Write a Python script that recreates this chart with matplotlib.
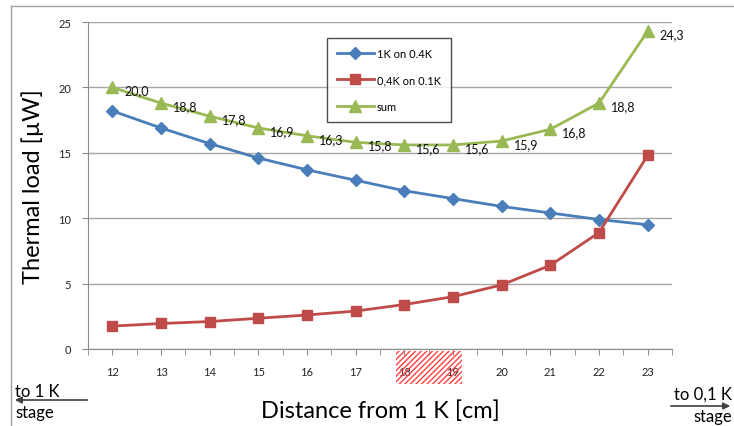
import matplotlib
matplotlib.use("Agg")
import matplotlib.pyplot as plt
from matplotlib.patches import Rectangle, FancyArrowPatch
import numpy as np

plt.rcParams['font.family'] = ['Lato', 'DejaVu Sans']

distances = [12, 13, 14, 15, 16, 17, 18, 19, 20, 21, 22, 23]
load_1k_on_04k = [18.2, 16.9, 15.7, 14.6, 13.7, 12.9, 12.1, 11.5, 10.9, 10.4, 9.9, 9.5]
load_04k_on_01k = [1.75, 1.95, 2.1, 2.35, 2.6, 2.9, 3.4, 4.0, 4.9, 6.4, 8.9, 14.8]
load_sum = [20.0, 18.8, 17.8, 16.9, 16.3, 15.8, 15.6, 15.6, 15.9, 16.8, 18.8, 24.3]
sum_labels = ["20,0", "18,8", "17,8", "16,9", "16,3", "15,8", "15,6", "15,6", "15,9", "16,8", "18,8", "24,3"]
series_names = ["1K on 0.4K", "0,4K on 0.1K", "sum"]
yticks = [0, 5, 10, 15, 20, 25]

fig = plt.figure(figsize=(7.34, 4.27), dpi=100)
W, H = 734, 427
ax = fig.add_axes([88 / W, 1 - 350 / H, 584 / W, 327 / H])

x = np.arange(len(distances))
blue, red, green = '#4a7ebb', '#be4b48', '#98b954'
ax.plot(x, load_1k_on_04k, color=blue, lw=2.0, marker='D', ms=6, label=series_names[0], zorder=3)
ax.plot(x, load_04k_on_01k, color=red, lw=2.0, marker='s', ms=7.5, label=series_names[1], zorder=3)
ax.plot(x, load_sum, color=green, lw=2.0, marker='^', ms=8, label=series_names[2], zorder=3)

for xi, yi, lab in zip(x, load_sum, sum_labels):
    ax.annotate(lab, (xi, yi), xytext=(12, -3), textcoords='offset pixels',
                ha='left', va='center', fontsize=9, color='#111111')

ax.set_xlim(-0.5, len(distances) - 0.5)
ax.set_ylim(0, 25)
ax.set_yticks(yticks)
ax.set_xticks(x)
ax.set_xticklabels([str(d) for d in distances])
ax.set_xticks(np.arange(-0.5, len(distances), 1.0), minor=True)
ax.grid(axis='y', color='#a6a6a6', lw=1.0)
ax.set_axisbelow(True)
for s in ['top', 'right']:
    ax.spines[s].set_visible(False)
for s in ['left', 'bottom']:
    ax.spines[s].set_color('#8c8c8c')
ax.tick_params(axis='both', which='both', colors='#8c8c8c', labelcolor='#222222',
               labelsize=8, direction='out', length=4)
ax.tick_params(axis='x', pad=8)
ax.tick_params(axis='y', pad=8)

ax.set_ylabel("Thermal load [µW]", fontsize=17, labelpad=10)
ax.set_xlabel("Distance from 1 K [cm]", fontsize=17, labelpad=16)

leg = ax.legend(loc='upper left', bbox_to_anchor=((321 - 88) / 584, (350 - 33) / 327),
                fontsize=8, frameon=True, fancybox=False, edgecolor='#222222',
                borderpad=0.9, labelspacing=1.4, handlelength=3.4, handletextpad=0.2)
leg.get_frame().set_linewidth(1.0)

# hatched highlight under 18-19
hb = Rectangle((396 / W, 1 - 385 / H), 66 / W, 33 / H, transform=fig.transFigure,
               facecolor='none', edgecolor='none', hatch='//////', zorder=0)
hb._hatch_color = matplotlib.colors.to_rgba('#ff4040')
fig.patches.append(hb)

# chart area border
fig.add_artist(plt.Line2D([11 / W, 11 / W], [0, 1 - 7 / H], transform=fig.transFigure, color='#a0a0a0', lw=1))
fig.add_artist(plt.Line2D([11 / W, 1], [1 - 7 / H, 1 - 7 / H], transform=fig.transFigure, color='#a0a0a0', lw=1))

# direction arrows
fig.text(15 / W, 1 - 392 / H, "to 1 K", fontsize=12, ha='left', va='center')
fig.text(15 / W, 1 - 413 / H, "stage", fontsize=12, ha='left', va='center')
fig.add_artist(FancyArrowPatch((90 / W, 1 - 401 / H), (12 / W, 1 - 401 / H),
               transform=fig.transFigure, arrowstyle='-|>', mutation_scale=10, color='#404040', lw=1.2))
fig.text(732 / W, 1 - 395 / H, "to 0,1 K", fontsize=12, ha='right', va='center')
fig.text(732 / W, 1 - 417 / H, "stage", fontsize=12, ha='right', va='center')
fig.add_artist(FancyArrowPatch((668 / W, 1 - 407 / H), (733 / W, 1 - 407 / H),
               transform=fig.transFigure, arrowstyle='-|>', mutation_scale=10, color='#404040', lw=1.2))

fig.savefig("out.png", dpi=100)
